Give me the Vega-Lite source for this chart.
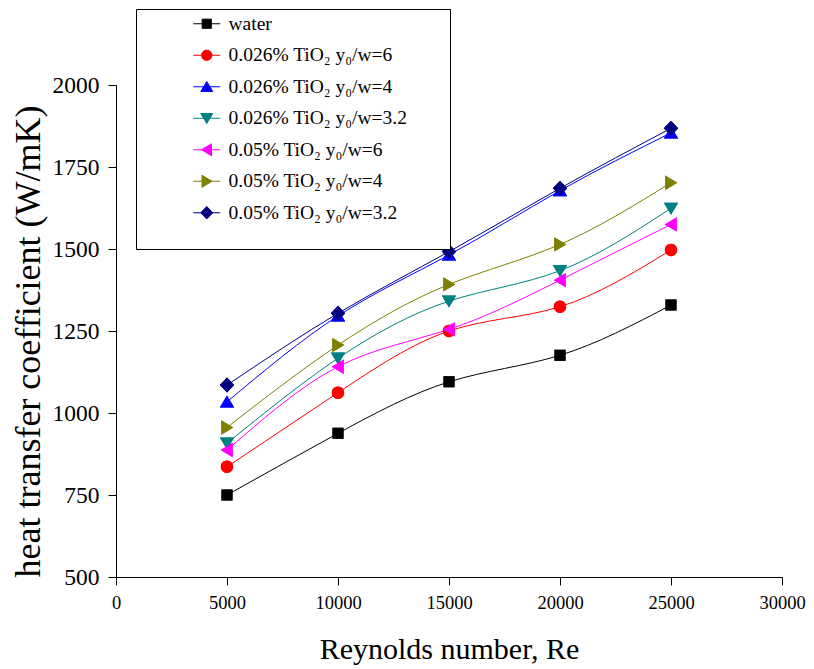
{
  "$schema": "https://vega.github.io/schema/vega-lite/v6.json",
  "autosize": {"type": "none"},
  "padding": {"left": 116, "top": 85, "right": 32, "bottom": 92},
  "width": 666,
  "height": 492,
  "background": "white",
  "config": {
    "font": "Liberation Serif",
    "view": {"stroke": null},
    "axis": {
      "grid": false,
      "domainColor": "black",
      "tickColor": "black",
      "labelColor": "black",
      "titleColor": "black",
      "titleFontWeight": "normal",
      "labelFont": "Liberation Serif",
      "titleFont": "Liberation Serif",
      "tickSize": 8,
      "domainWidth": 1,
      "tickWidth": 1
    }
  },
  "data": {
    "values": [
      {"Re": 5000, "h": 750, "series": "water"},
      {"Re": 10000, "h": 938, "series": "water"},
      {"Re": 15000, "h": 1095, "series": "water"},
      {"Re": 20000, "h": 1176, "series": "water"},
      {"Re": 25000, "h": 1329, "series": "water"},
      {"Re": 5000, "h": 836, "series": "0.026% TiO₂ y₀/w=6"},
      {"Re": 10000, "h": 1062, "series": "0.026% TiO₂ y₀/w=6"},
      {"Re": 15000, "h": 1250, "series": "0.026% TiO₂ y₀/w=6"},
      {"Re": 20000, "h": 1324, "series": "0.026% TiO₂ y₀/w=6"},
      {"Re": 25000, "h": 1497, "series": "0.026% TiO₂ y₀/w=6"},
      {"Re": 5000, "h": 1034, "series": "0.026% TiO₂ y₀/w=4"},
      {"Re": 10000, "h": 1296, "series": "0.026% TiO₂ y₀/w=4"},
      {"Re": 15000, "h": 1482, "series": "0.026% TiO₂ y₀/w=4"},
      {"Re": 20000, "h": 1678, "series": "0.026% TiO₂ y₀/w=4"},
      {"Re": 25000, "h": 1854, "series": "0.026% TiO₂ y₀/w=4"},
      {"Re": 5000, "h": 908, "series": "0.026% TiO₂ y₀/w=3.2"},
      {"Re": 10000, "h": 1167, "series": "0.026% TiO₂ y₀/w=3.2"},
      {"Re": 15000, "h": 1341, "series": "0.026% TiO₂ y₀/w=3.2"},
      {"Re": 20000, "h": 1434, "series": "0.026% TiO₂ y₀/w=3.2"},
      {"Re": 25000, "h": 1624, "series": "0.026% TiO₂ y₀/w=3.2"},
      {"Re": 5000, "h": 887, "series": "0.05% TiO₂ y₀/w=6"},
      {"Re": 10000, "h": 1141, "series": "0.05% TiO₂ y₀/w=6"},
      {"Re": 15000, "h": 1255, "series": "0.05% TiO₂ y₀/w=6"},
      {"Re": 20000, "h": 1405, "series": "0.05% TiO₂ y₀/w=6"},
      {"Re": 25000, "h": 1575, "series": "0.05% TiO₂ y₀/w=6"},
      {"Re": 5000, "h": 956, "series": "0.05% TiO₂ y₀/w=4"},
      {"Re": 10000, "h": 1207, "series": "0.05% TiO₂ y₀/w=4"},
      {"Re": 15000, "h": 1392, "series": "0.05% TiO₂ y₀/w=4"},
      {"Re": 20000, "h": 1514, "series": "0.05% TiO₂ y₀/w=4"},
      {"Re": 25000, "h": 1702, "series": "0.05% TiO₂ y₀/w=4"},
      {"Re": 5000, "h": 1085, "series": "0.05% TiO₂ y₀/w=3.2"},
      {"Re": 10000, "h": 1304, "series": "0.05% TiO₂ y₀/w=3.2"},
      {"Re": 15000, "h": 1492, "series": "0.05% TiO₂ y₀/w=3.2"},
      {"Re": 20000, "h": 1685, "series": "0.05% TiO₂ y₀/w=3.2"},
      {"Re": 25000, "h": 1868, "series": "0.05% TiO₂ y₀/w=3.2"}
    ]
  },
  "encoding": {
    "x": {
      "field": "Re",
      "type": "quantitative",
      "scale": {"domain": [0, 30000], "nice": false, "zero": false},
      "axis": {
        "title": "Reynolds number, Re",
        "values": [0, 5000, 10000, 15000, 20000, 25000, 30000],
        "format": "d",
        "labelFontSize": 18.5,
        "titleFontSize": 30,
        "labelPadding": 8,
        "titlePadding": 23,
        "labelFlush": false,
        "labelOverlap": false
      }
    },
    "y": {
      "field": "h",
      "type": "quantitative",
      "scale": {"domain": [500, 2000], "nice": false, "zero": false},
      "axis": {
        "title": "heat transfer coefficient (W/mK)",
        "values": [500, 750, 1000, 1250, 1500, 1750, 2000],
        "format": "d",
        "labelFontSize": 23.5,
        "titleFontSize": 36,
        "titleY": 256,
        "labelPadding": 9,
        "titlePadding": 5,
        "labelFlush": false,
        "labelOverlap": false
      }
    },
    "color": {
      "field": "series",
      "type": "nominal",
      "scale": {
        "domain": ["water", "0.026% TiO₂ y₀/w=6", "0.026% TiO₂ y₀/w=4", "0.026% TiO₂ y₀/w=3.2", "0.05% TiO₂ y₀/w=6", "0.05% TiO₂ y₀/w=4", "0.05% TiO₂ y₀/w=3.2"],
        "range": ["#000000", "#ff0000", "#0000ff", "#008080", "#ff00ff", "#808000", "#000080"]
      },
      "legend": {
        "orient": "none",
        "legendX": 20,
        "legendY": -76,
        "title": "______________________________________",
        "titleColor": "rgba(0,0,0,0)",
        "titleOrient": "bottom",
        "titleFontSize": 16,
        "titleLimit": 2000,
        "titlePadding": 6,
        "padding": 5,
        "strokeColor": "black",
        "fillColor": "white",
        "labelFont": "Liberation Serif",
        "labelFontSize": 19.5,
        "labelColor": "black",
        "labelLimit": 500,
        "labelOffset": 12,
        "symbolOffset": 56,
        "rowPadding": 10.5,
        "symbolStrokeWidth": 1
      }
    },
    "shape": {
      "field": "series",
      "type": "nominal",
      "scale": {
        "domain": ["water", "0.026% TiO₂ y₀/w=6", "0.026% TiO₂ y₀/w=4", "0.026% TiO₂ y₀/w=3.2", "0.05% TiO₂ y₀/w=6", "0.05% TiO₂ y₀/w=4", "0.05% TiO₂ y₀/w=3.2"],
        "range": [
          "M-2.7,0H2.7M-0.92,-0.92H0.92V0.92H-0.92Z",
          "M-2.7,0H2.7M-1.03,0A1.03,1.03,0,1,0,1.03,0A1.03,1.03,0,1,0,-1.03,0Z",
          "M-2.7,0H2.7M0,-1.05L1.2,0.95L-1.2,0.95Z",
          "M-2.7,0H2.7M0,1.05L1.2,-0.95L-1.2,-0.95Z",
          "M-2.7,0H2.7M-1.05,0L0.95,-1.2L0.95,1.2Z",
          "M-2.7,0H2.7M1.05,0L-0.95,-1.2L-0.95,1.2Z",
          "M-2.7,0H2.7M0,-1.25L1.2,0L0,1.25L-1.2,0Z"
        ]
      },
      "legend": {
        "orient": "none",
        "legendX": 20,
        "legendY": -76,
        "title": "______________________________________",
        "titleColor": "rgba(0,0,0,0)",
        "titleOrient": "bottom",
        "titleFontSize": 16,
        "titleLimit": 2000,
        "titlePadding": 6,
        "padding": 5,
        "strokeColor": "black",
        "fillColor": "white",
        "labelFont": "Liberation Serif",
        "labelFontSize": 19.5,
        "labelColor": "black",
        "labelLimit": 500,
        "labelOffset": 12,
        "symbolOffset": 56,
        "rowPadding": 10.5,
        "symbolStrokeWidth": 1
      }
    }
  },
  "layer": [
    {
      "mark": {"type": "point", "filled": true, "size": 144, "opacity": 1}
    },
    {
      "mark": {"type": "line", "interpolate": "natural", "strokeWidth": 1},
      "encoding": {"shape": null}
    },
    {
      "mark": {"type": "point", "filled": true, "size": 144, "opacity": 1}
    }
  ]
}
